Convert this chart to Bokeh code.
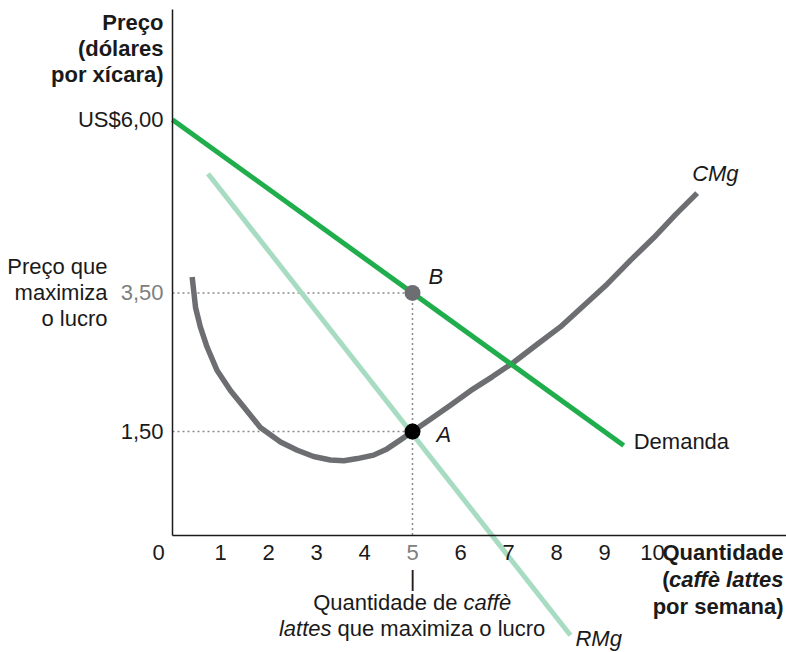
from bokeh.plotting import figure
from bokeh.models import Range1d, LinearAxis, FixedTicker
from bokeh.core.properties import value
from bokeh.embed import file_html
from bokeh.resources import INLINE

# ---------------- data ----------------
demand_q = [0.0, 9.4]
demand_p = [6.0, 1.3]

mr_q = [0.74, 8.29]
mr_p = [5.22, -1.44]

mc_q = [0.41, 0.48, 0.58, 0.72, 0.93, 1.21, 1.49, 1.83, 2.25, 2.60,
        2.94, 3.29, 3.57, 3.85, 4.19, 4.47, 4.75, 5.00, 5.38, 5.79,
        6.21, 6.66, 7.11, 7.60, 8.08, 8.57, 9.06, 9.54, 10.03, 10.48, 10.93]
mc_p = [3.73, 3.29, 3.01, 2.72, 2.38, 2.09, 1.85, 1.56, 1.35, 1.23,
        1.14, 1.09, 1.08, 1.11, 1.16, 1.25, 1.38, 1.50, 1.68, 1.88,
        2.09, 2.29, 2.50, 2.76, 3.01, 3.32, 3.63, 3.97, 4.30, 4.63, 4.94]

q_star = 5.0      # quantity that maximizes profit
p_star = 3.5      # price that maximizes profit (point B)
mc_star = 1.5     # MC = MR at q* (point A)

x_ticks = [1, 2, 3, 4, 6, 7, 8, 9, 10]
y_ticks = [1.5, 6.0]
y_tick_labels = {1.5: "1,50", 6.0: "US$6,00"}
p_star_label = {3.5: "3,50"}

# ---------------- styling ----------------
FONT = "Liberation Sans"
FS = "22px"
INK = "#1a1a1a"
GREEN = "#1fae4b"
LIGHT_GREEN = "#a8dcc2"
GREY = "#6d6e72"
DOT = "#8a8a8a"

W, H = 786, 652
X_START, X_END = -3.5833, 12.7917
Y_START, Y_END = -1.688, 7.720
AXIS_TOP = 7.59

p = figure(width=W, height=H, output_backend="svg", toolbar_location=None,
           x_range=Range1d(X_START, X_END), y_range=Range1d(Y_START, Y_END),
           x_axis_location=None, y_axis_location=None, min_border=0,
           tools="")
p.outline_line_color = None
p.xgrid.visible = False
p.ygrid.visible = False
p.background_fill_color = "white"
p.border_fill_color = "white"


def axis_common(ax):
    ax.major_tick_line_color = None
    ax.minor_tick_line_color = None
    ax.major_tick_out = 0
    ax.major_tick_in = 0
    ax.minor_tick_out = 0
    ax.minor_tick_in = 0
    ax.major_label_text_font = FONT
    ax.major_label_text_font_size = FS
    ax.major_label_text_color = INK
    return ax


# x axis (at y = 0)
xaxis = axis_common(LinearAxis(fixed_location=0, ticker=FixedTicker(ticks=x_ticks),
                               bounds=(0, X_END)))
xaxis.axis_line_color = INK
xaxis.axis_line_width = 1.5
xaxis.major_label_standoff = 9
p.add_layout(xaxis, "below")

xaxis5 = axis_common(LinearAxis(fixed_location=0, ticker=FixedTicker(ticks=[q_star])))
xaxis5.axis_line_color = None
xaxis5.major_label_standoff = 9
xaxis5.major_label_text_color = "#808080"
p.add_layout(xaxis5, "below")

# y axis (at x = 0)
yaxis = axis_common(LinearAxis(fixed_location=0, ticker=FixedTicker(ticks=y_ticks),
                               bounds=(0, AXIS_TOP)))
yaxis.major_label_overrides = y_tick_labels
yaxis.axis_line_color = INK
yaxis.axis_line_width = 1.5
yaxis.major_label_standoff = 9
p.add_layout(yaxis, "left")

yaxis2 = axis_common(LinearAxis(fixed_location=0, ticker=FixedTicker(ticks=[p_star])))
yaxis2.major_label_overrides = p_star_label
yaxis2.axis_line_color = None
yaxis2.major_label_standoff = 9
yaxis2.major_label_text_color = "#808080"
p.add_layout(yaxis2, "left")

# dotted guide lines
for gx, gy in (([0, q_star], [p_star, p_star]),
               ([0, q_star], [mc_star, mc_star]),
               ([q_star, q_star], [p_star, 0])):
    p.line(gx, gy, line_color=DOT, line_width=1.5, line_dash="2 3")

# curves
p.line(mr_q, mr_p, line_color=LIGHT_GREEN, line_width=5)
p.line(mc_q, mc_p, line_color=GREY, line_width=5.5, line_join="round")
p.line(demand_q, demand_p, line_color=GREEN, line_width=5)

# points B and A
p.scatter([q_star], [p_star], size=16, fill_color=GREY, line_color=None)
p.scatter([q_star], [mc_star], size=16, fill_color="black", line_color=None)


def txt(x, y, text, xo=0, yo=0, align="left", baseline="middle",
        style="normal", color=INK):
    p.text(x=x, y=y, text=text, x_offset=xo, y_offset=yo,
           text_align=align, text_baseline=baseline,
           text_font=value(FONT), text_font_style=style,
           text_font_size=FS, text_color=color)


# origin label
txt([0], [0], ["0"], xo=-14, yo=17, align="center")

# point labels
txt([q_star], [p_star], ["B"], xo=16, yo=-16, style="italic")
txt([q_star], [mc_star], ["A"], xo=24, yo=3, style="italic")

# curve labels
txt([mc_q[-1]], [mc_p[-1]], ["CMg"], xo=-5, yo=-20, style="italic")
txt([mr_q[-1]], [mr_p[-1]], ["RMg"], xo=5, yo=3, style="italic")
txt([demand_q[-1]], [demand_p[-1]], ["Demanda"], xo=10, yo=-4)

# y axis title
txt([0, 0, 0], [AXIS_TOP] * 3, ["Preço", "(dólares", "por xícara)"],
    xo=-9, yo=[13, 39, 65], align="right", style="bold")

# price that maximizes profit
txt([0, 0, 0], [p_star] * 3, ["Preço que", "maximiza", "o lucro"],
    xo=-65, yo=[-26, 0, 26], align="right")

# x axis title
txt([X_END], [0], ["Quantidade"], xo=-3, yo=17, align="right", style="bold")
txt([X_END], [0], ["caffè lattes"], xo=-3, yo=44, align="right", style="bold italic")
txt([X_END], [0], ["("], xo=-117, yo=44, align="right", style="bold")
txt([X_END], [0], ["por semana)"], xo=-3, yo=71, align="right", style="bold")

# quantity that maximizes profit
txt([q_star], [0], ["|"], xo=0, yo=43, align="center")
txt([q_star], [0], ["Quantidade de"], xo=45, yo=67, align="right")
txt([q_star], [0], ["caffè"], xo=51, yo=67, align="left", style="italic")
txt([q_star], [0], ["lattes"], xo=-81, yo=93, align="right", style="italic")
txt([q_star], [0], ["que maximiza o lucro"], xo=-75, yo=93, align="left")

open("out.html", "w").write(file_html(p, INLINE))
